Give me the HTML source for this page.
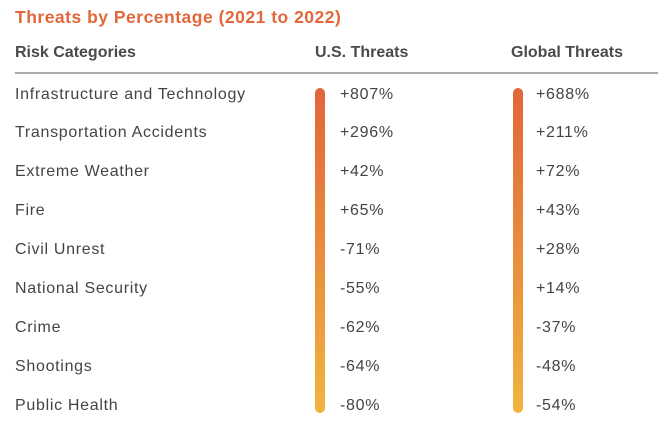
<!DOCTYPE html>
<html><head><style>
body{margin:0;width:670px;height:428px;background:#fff;font-family:"Liberation Sans",sans-serif;position:relative;overflow:hidden}
.t{position:absolute;white-space:nowrap}
.title{left:15px;top:7px;font-size:17.5px;font-weight:bold;color:#E2673A;letter-spacing:0.5px}
.h{top:44px;font-size:16px;font-weight:bold;color:#4a4a4a}
.r{font-size:16px;color:#444;letter-spacing:0.7px}
.bar{position:absolute;width:10px;top:88px;height:325px;border-radius:5px;background:linear-gradient(#E2653A,#F0B43E)}
</style></head><body>
<div class="t title">Threats by Percentage (2021 to 2022)</div>
<div class="t h" style="left:15px">Risk Categories</div>
<div class="t h" style="left:315px">U.S. Threats</div>
<div class="t h" style="left:511px">Global Threats</div>
<div style="position:absolute;left:15px;top:72px;width:643px;height:1.5px;background:#aaa"></div>
<div class="bar" style="left:315px"></div>
<div class="bar" style="left:513px"></div>
<div class="t r" style="left:15px;top:86px">Infrastructure and Technology</div><div class="t r" style="left:340px;top:86px">+807%</div><div class="t r" style="left:536px;top:86px">+688%</div>
<div class="t r" style="left:15px;top:124px">Transportation Accidents</div><div class="t r" style="left:340px;top:124px">+296%</div><div class="t r" style="left:536px;top:124px">+211%</div>
<div class="t r" style="left:15px;top:163px">Extreme Weather</div><div class="t r" style="left:340px;top:163px">+42%</div><div class="t r" style="left:536px;top:163px">+72%</div>
<div class="t r" style="left:15px;top:202px">Fire</div><div class="t r" style="left:340px;top:202px">+65%</div><div class="t r" style="left:536px;top:202px">+43%</div>
<div class="t r" style="left:15px;top:241px">Civil Unrest</div><div class="t r" style="left:340px;top:241px">-71%</div><div class="t r" style="left:536px;top:241px">+28%</div>
<div class="t r" style="left:15px;top:280px">National Security</div><div class="t r" style="left:340px;top:280px">-55%</div><div class="t r" style="left:536px;top:280px">+14%</div>
<div class="t r" style="left:15px;top:319px">Crime</div><div class="t r" style="left:340px;top:319px">-62%</div><div class="t r" style="left:536px;top:319px">-37%</div>
<div class="t r" style="left:15px;top:358px">Shootings</div><div class="t r" style="left:340px;top:358px">-64%</div><div class="t r" style="left:536px;top:358px">-48%</div>
<div class="t r" style="left:15px;top:397px">Public Health</div><div class="t r" style="left:340px;top:397px">-80%</div><div class="t r" style="left:536px;top:397px">-54%</div>
</body></html>
